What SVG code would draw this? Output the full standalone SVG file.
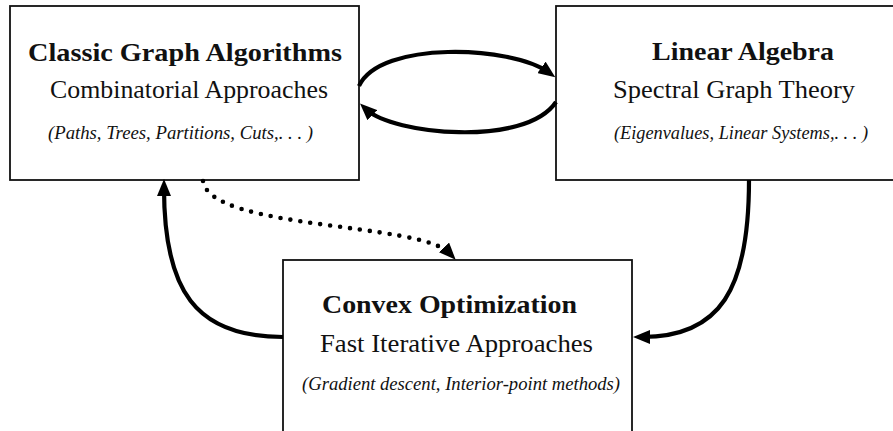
<svg xmlns="http://www.w3.org/2000/svg" width="893" height="431" viewBox="0 0 893 431">
<style>
.box{fill:#fff;stroke:#111;stroke-width:1.8}
.t{font-family:"Liberation Serif","DejaVu Serif",serif;fill:#111}
.b{font-weight:bold;font-size:25px}
.s{font-size:25px}
.i{font-style:italic;font-size:19px}
.c{fill:none;stroke:#000;stroke-width:4.2}
.d{fill:none;stroke:#000;stroke-width:4.6;stroke-linecap:round;stroke-dasharray:0 10}
</style>
<defs>
<marker id="ah" markerUnits="userSpaceOnUse" viewBox="0 0 17 14" markerWidth="17" markerHeight="14" refX="8" refY="7" orient="auto">
<path d="M0,0 L17,7 L0,14 Z" fill="#000"/>
</marker>
</defs>
<rect width="893" height="431" fill="#fff"/>
<g id="classic">
<rect class="box" x="10" y="6" width="349" height="174"/>
<text class="t b" x="28" y="61" textLength="314" lengthAdjust="spacingAndGlyphs">Classic Graph Algorithms</text>
<text class="t s" x="50" y="98" textLength="278" lengthAdjust="spacingAndGlyphs">Combinatorial Approaches</text>
<text class="t i" x="48" y="139" textLength="265" lengthAdjust="spacingAndGlyphs">(Paths, Trees, Partitions, Cuts,. . . )</text>
</g>
<g id="linear">
<rect class="box" x="556" y="6" width="350" height="174"/>
<text class="t b" x="652" y="60" textLength="182" lengthAdjust="spacingAndGlyphs">Linear Algebra</text>
<text class="t s" x="613" y="98" textLength="242" lengthAdjust="spacingAndGlyphs">Spectral Graph Theory</text>
<text class="t i" x="614" y="139" textLength="254" lengthAdjust="spacingAndGlyphs">(Eigenvalues, Linear Systems,. . . )</text>
</g>
<g id="convex">
<rect class="box" x="283" y="260" width="349" height="190"/>
<text class="t b" x="322" y="313" textLength="255" lengthAdjust="spacingAndGlyphs">Convex Optimization</text>
<text class="t s" x="320" y="352" textLength="273" lengthAdjust="spacingAndGlyphs">Fast Iterative Approaches</text>
<text class="t i" x="302" y="390" textLength="318" lengthAdjust="spacingAndGlyphs">(Gradient descent, Interior-point methods)</text>
</g>
<g id="connectors">
<path class="c" d="M359,86 C380,40 512,46 548,72" marker-end="url(#ah)"/>
<path class="c" d="M556,102 C525,148 392,134 366.5,109.6" marker-end="url(#ah)"/>
<path class="c" d="M749,180 C749,290 720,337 642,337" marker-end="url(#ah)"/>
<path class="c" d="M283,337 C195,337 164,290 164,188" marker-end="url(#ah)"/>
<path class="d" d="M203,181 C210,230 420,222 449.5,253.2" marker-end="url(#ah)"/>
</g>
</svg>
